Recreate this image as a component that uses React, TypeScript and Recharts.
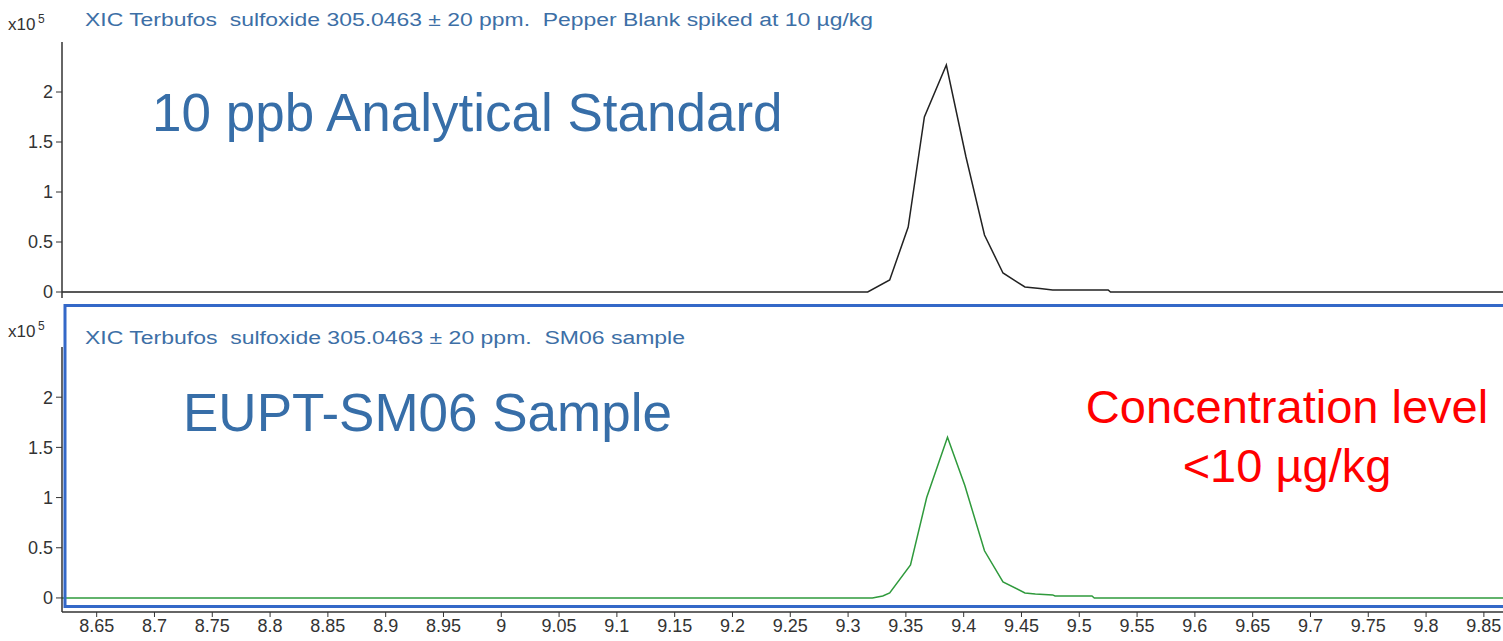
import { LineChart, Line, XAxis, YAxis } from "recharts";

// Two stacked extracted-ion chromatograms (x10^5 counts vs acquisition time, min).

const timeTicks = [
  8.65, 8.7, 8.75, 8.8, 8.85, 8.9, 8.95, 9, 9.05, 9.1, 9.15, 9.2, 9.25, 9.3, 9.35,
  9.4, 9.45, 9.5, 9.55, 9.6, 9.65, 9.7, 9.75, 9.8, 9.85,
];
const abundTicks = [0, 0.5, 1, 1.5, 2];

// standard (top trace)
const stdTime = [
  8.62, 9.317, 9.336, 9.352, 9.366, 9.385, 9.402, 9.418, 9.434, 9.453, 9.466, 9.477,
  9.525, 9.527, 9.87,
];
const stdAbund = [0, 0, 0.12, 0.65, 1.75, 2.27, 1.35, 0.57, 0.19, 0.05, 0.035, 0.02, 0.02, 0, 0];

// sample (bottom trace)
const smpTime = [
  8.62, 9.321, 9.33, 9.336, 9.354, 9.368, 9.386, 9.401, 9.418, 9.434, 9.453, 9.462,
  9.477, 9.479, 9.511, 9.513, 9.87,
];
const smpAbund = [0, 0, 0.02, 0.05, 0.33, 1.0, 1.6, 1.12, 0.47, 0.16, 0.05, 0.04, 0.03, 0.02, 0.02, 0, 0];

const stdData = stdTime.map((t, i) => ({ t, v: stdAbund[i] }));
const smpData = smpTime.map((t, i) => ({ t, v: smpAbund[i] }));

const FONT = '"Liberation Sans", Arial, sans-serif';
const AXIS = "#333333";
const TITLE_BLUE = "#3d6fa6";
const BIG_BLUE = "#376ea8";

const fmtTime = (v: number) => String(Number(v.toFixed(2)));
const fmtAbund = (v: number) => String(v);

const tickStyle = { fill: AXIS, fontSize: 18, fontFamily: FONT };

export default function App() {
  return (
    <div
      style={{
        position: "absolute",
        left: 0,
        top: 0,
        width: 1503,
        height: 641,
        overflow: "hidden",
        background: "#ffffff",
      }}
    >
      <div style={{ position: "absolute", left: 0, top: 0 }}>
        <LineChart
          width={1507}
          height={312}
          data={stdData}
          margin={{ top: 42, right: 0, bottom: 14, left: 0 }}
        >
          <XAxis dataKey="t" type="number" domain={[8.62, 9.87]} hide allowDataOverflow />
          <YAxis
            type="number"
            domain={[-0.06, 2.5]}
            ticks={abundTicks}
            interval={0}
            allowDataOverflow
            width={62}
            tickSize={6}
            tickMargin={3}
            tick={tickStyle}
            tickFormatter={fmtAbund}
            axisLine={{ stroke: AXIS, strokeWidth: 1.5 }}
            tickLine={{ stroke: AXIS }}
          />
          <Line
            dataKey="v"
            type="linear"
            stroke="#222222"
            strokeWidth={1.5}
            dot={false}
            isAnimationActive={false}
          />
        </LineChart>
      </div>

      <div style={{ position: "absolute", left: 0, top: 330 }}>
        <LineChart
          width={1507}
          height={311}
          data={smpData}
          margin={{ top: 17, right: 0, bottom: 0, left: 0 }}
        >
          <XAxis
            dataKey="t"
            type="number"
            domain={[8.62, 9.87]}
            ticks={timeTicks}
            interval={0}
            allowDataOverflow
            height={29}
            tickSize={5}
            tickMargin={2}
            tick={tickStyle}
            tickFormatter={fmtTime}
            axisLine={{ stroke: AXIS, strokeWidth: 1.5 }}
            tickLine={{ stroke: AXIS }}
          />
          <YAxis
            type="number"
            domain={[-0.14, 2.5]}
            ticks={abundTicks}
            interval={0}
            allowDataOverflow
            width={62}
            tickSize={6}
            tickMargin={3}
            tick={tickStyle}
            tickFormatter={fmtAbund}
            axisLine={{ stroke: AXIS, strokeWidth: 1.5 }}
            tickLine={{ stroke: AXIS }}
          />
          <Line
            dataKey="v"
            type="linear"
            stroke="#2f9a3c"
            strokeWidth={1.5}
            dot={false}
            isAnimationActive={false}
          />
        </LineChart>
      </div>

      {/* panel titles, scale factors, annotations, selected-panel frame */}
      <svg
        width={1503}
        height={641}
        style={{ position: "absolute", left: 0, top: 0, pointerEvents: "none" }}
        fontFamily={FONT}
      >
        <rect x={65} y={305.5} width={1480} height={301} fill="none" stroke="#3468c8" strokeWidth={3} />

        <text x={8} y={30} fontSize={17} fill={AXIS}>x10</text>
        <text x={38} y={23} fontSize={12} fill={AXIS}>5</text>
        <text x={8} y={337} fontSize={17} fill={AXIS}>x10</text>
        <text x={38} y={330} fontSize={12} fill={AXIS}>5</text>

        <text
          x={85}
          y={26}
          fontSize={18}
          fill={TITLE_BLUE}
          textLength={788}
          lengthAdjust="spacingAndGlyphs"
          style={{ whiteSpace: "pre" }}
        >
          {"XIC Terbufos  sulfoxide 305.0463 ± 20 ppm.  Pepper Blank spiked at 10 µg/kg"}
        </text>
        <text
          x={85}
          y={344}
          fontSize={18}
          fill={TITLE_BLUE}
          textLength={600}
          lengthAdjust="spacingAndGlyphs"
          style={{ whiteSpace: "pre" }}
        >
          {"XIC Terbufos  sulfoxide 305.0463 ± 20 ppm.  SM06 sample"}
        </text>

        <text x={152} y={131} fontSize={53} fill={BIG_BLUE}>10 ppb Analytical Standard</text>
        <text x={183} y={431} fontSize={53} fill={BIG_BLUE}>EUPT-SM06 Sample</text>

        <text x={1287} y={423} fontSize={47} fill="#ff0000" textAnchor="middle">
          Concentration level
        </text>
        <text x={1287} y={482} fontSize={47} fill="#ff0000" textAnchor="middle">
          {"<10 µg/kg"}
        </text>
      </svg>
    </div>
  );
}
